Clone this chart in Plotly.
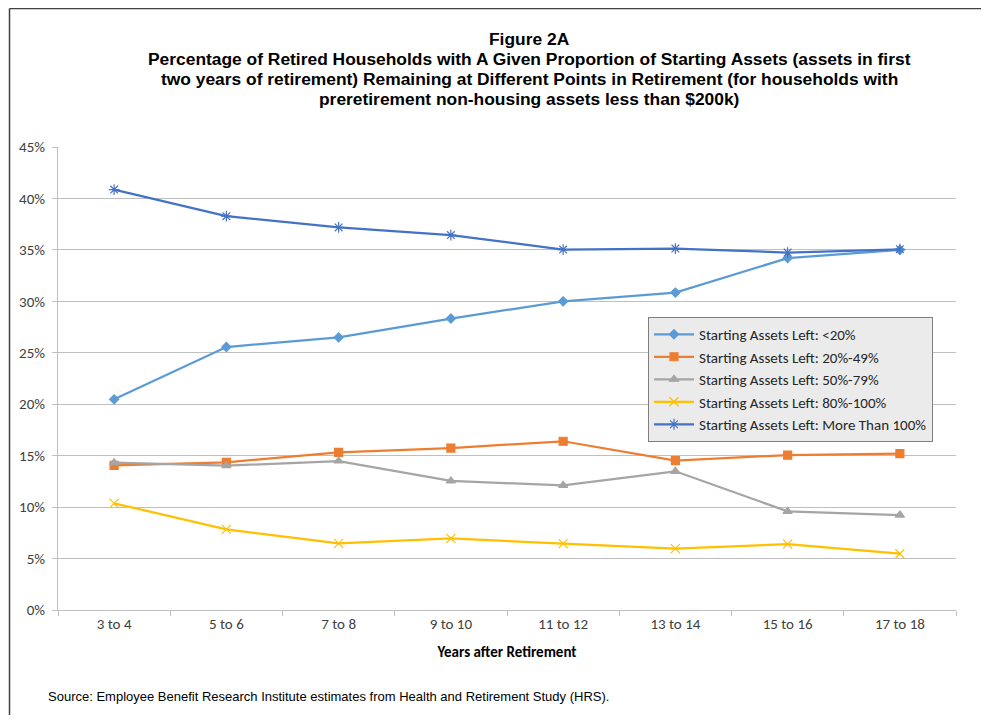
import plotly.graph_objects as go

categories = ["3 to 4", "5 to 6", "7 to 8", "9 to 10", "11 to 12", "13 to 14", "15 to 16", "17 to 18"]

lt20 = [0.2048, 0.2556, 0.2649, 0.2833, 0.3000, 0.3085, 0.3420, 0.3500]
p20_49 = [0.1406, 0.1435, 0.1532, 0.1574, 0.1640, 0.1451, 0.1506, 0.1519]
p50_79 = [0.1432, 0.1403, 0.1448, 0.1254, 0.1212, 0.1348, 0.0959, 0.0923]
p80_100 = [0.1037, 0.0784, 0.0648, 0.0696, 0.0645, 0.0596, 0.0641, 0.0547]
gt100 = [0.4086, 0.3828, 0.3718, 0.3644, 0.3503, 0.3513, 0.3474, 0.3506]

series_names = [
    "Starting Assets Left: <20%",
    "Starting Assets Left: 20%-49%",
    "Starting Assets Left: 50%-79%",
    "Starting Assets Left: 80%-100%",
    "Starting Assets Left: More Than 100%",
]
series_values = [lt20, p20_49, p50_79, p80_100, gt100]
colors = ["#5B9BD5", "#ED7D31", "#A5A5A5", "#FFC000", "#4472C4"]
symbols = ["diamond", "square", "triangle-up", "x-thin-open", "asterisk-open"]
msizes = [7, 8, 8, 9, 9]

tick_vals = [0, 0.05, 0.10, 0.15, 0.20, 0.25, 0.30, 0.35, 0.40, 0.45]
tick_text = ["0%", "5%", "10%", "15%", "20%", "25%", "30%", "35%", "40%", "45%"]

title_lines = [
    "Figure 2A",
    "Percentage of Retired Households with A Given Proportion of Starting Assets (assets in first",
    "two years of retirement) Remaining at Different Points in Retirement (for households with",
    "preretirement non-housing assets less than $200k)",
]
source_text = "Source: Employee Benefit Research Institute estimates from Health and Retirement Study (HRS)."

fig = go.Figure()
for name, vals, c, s, ms in zip(series_names, series_values, colors, symbols, msizes):
    fig.add_trace(go.Scatter(
        x=categories, y=vals, name=name, mode="lines+markers",
        line=dict(color=c, width=2.25),
        marker=dict(symbol=s, size=ms, color=c, line=dict(color=c, width=1.2)),
    ))

# page has an 8px body margin: work in screen pixels and shift
OFF = 8
W, H = 989 - 2 * OFF, 723 - 2 * OFF
L, R, T, B = 58 - OFF, 956 - OFF, 147 - OFF, 610 - OFF
pw, ph = R - L, B - T

def px(x):
    return (x - OFF - L) / pw

def py(y):
    return (B - (y - OFF)) / ph

body_font = "Carlito, Lato, Liberation Sans, sans-serif"

fig.update_layout(
    width=W, height=H,
    margin=dict(l=L, r=W - R, t=T, b=H - B, pad=0),
    paper_bgcolor="white", plot_bgcolor="white",
    font=dict(family=body_font, color="#404040", size=15),
    showlegend=True,
    legend=dict(
        x=px(648), y=py(317), xanchor="left", yanchor="top",
        bgcolor="#EBEBEB", bordercolor="#7F7F7F", borderwidth=1,
        font=dict(family=body_font, size=15, color="#262626"),
        itemwidth=40, tracegroupgap=0,
    ),
    xaxis=dict(
        type="category", range=[-0.5, 7.5],
        showgrid=False, showline=True, linecolor="#BFBFBF", linewidth=1,
        ticks="outside", ticklen=5, tickcolor="#BFBFBF", tickson="boundaries",
        tickfont=dict(size=15, color="#404040"),
        title=dict(text="<b>Years after Retirement</b>", standoff=14,
                   font=dict(family=body_font, size=15, color="black")),
    ),
    yaxis=dict(
        range=[0, 0.45], tickvals=tick_vals, ticktext=tick_text,
        showgrid=True, gridcolor="#BFBFBF", gridwidth=1,
        showline=True, linecolor="#BFBFBF", linewidth=1,
        ticks="outside", ticklen=5, tickcolor="#BFBFBF",
        tickfont=dict(size=15, color="#404040"),
        ticklabelstandoff=4,
        zeroline=False,
    ),
)

# outer chart-area frame: top and left edges only (the rest runs off the picture)
fig.add_shape(type="line", xref="paper", yref="paper",
              x0=px(9.5), x1=px(W + OFF), y0=py(8.5), y1=py(8.5),
              line=dict(color="#404040", width=1.5), layer="below")
fig.add_shape(type="line", xref="paper", yref="paper",
              x0=px(9.5), x1=px(9.5), y0=py(8.5), y1=py(H + OFF),
              line=dict(color="#404040", width=1.5), layer="below")

for i, line in enumerate(title_lines):
    fig.add_annotation(
        text="<b>" + line + "</b>", xref="paper", yref="paper",
        x=px(529), y=py(39 + 20 * i), xanchor="center", yanchor="middle",
        showarrow=False,
        font=dict(family="Liberation Sans, Arial, sans-serif", size=17.4, color="black"),
    )

fig.add_annotation(
    text=source_text,
    xref="paper", yref="paper", x=px(46), y=py(696), xanchor="left", yanchor="middle",
    showarrow=False, font=dict(family="Liberation Sans, Arial, sans-serif", size=13, color="black"),
)

fig.write_html("out.html")
